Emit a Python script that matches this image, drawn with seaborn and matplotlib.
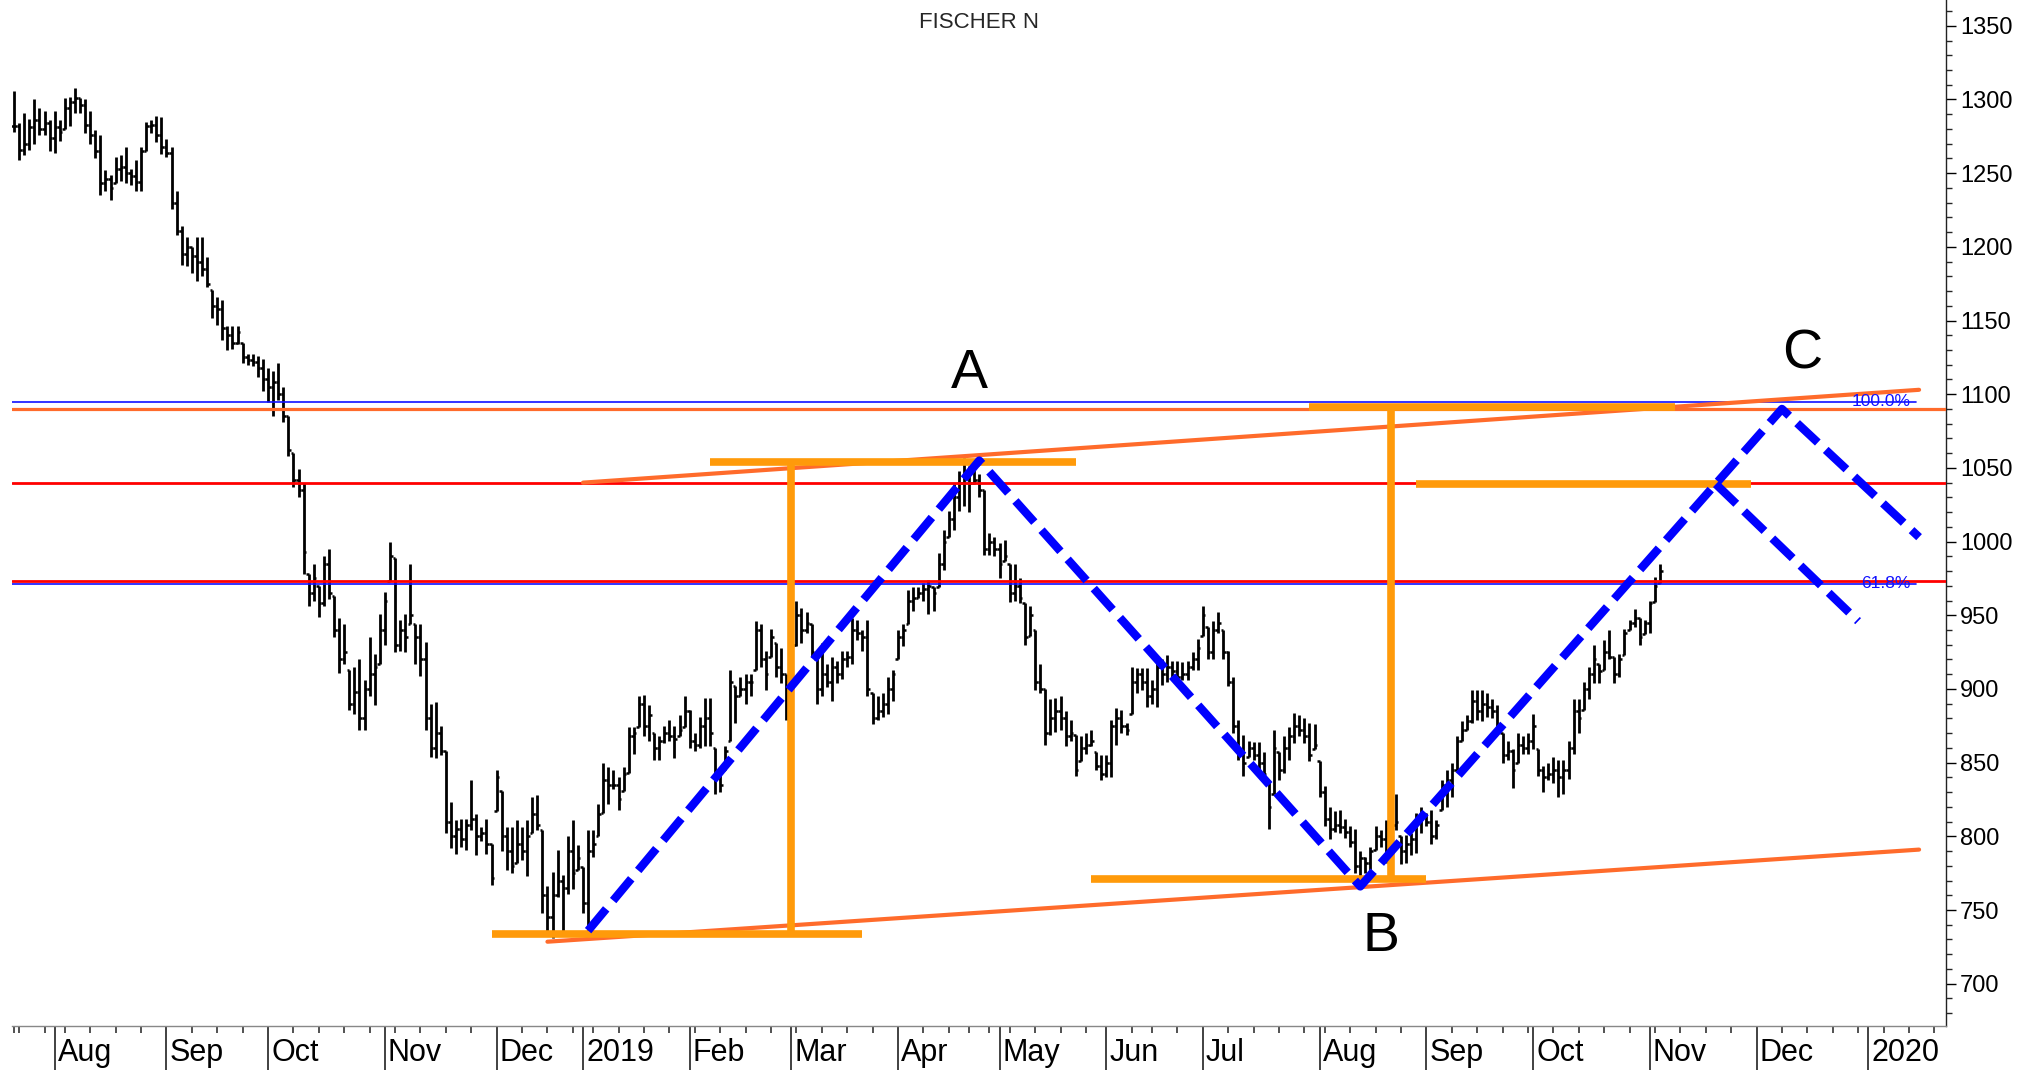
import numpy as np
import pandas as pd
import matplotlib
matplotlib.use("Agg")
import matplotlib.pyplot as plt
import matplotlib.transforms as mtransforms
from matplotlib.ticker import MultipleLocator, FixedLocator
import seaborn as sns

# Daily bars FISCHER N, 20 Jul 2018 - 5 Nov 2019 (rows of 10 bars)
highs = [
    1306, 1284, 1291, 1287, 1300, 1294, 1292, 1286, 1292, 1286,
    1301, 1302, 1308, 1301, 1300, 1292, 1279, 1276, 1252, 1249,
    1261, 1262, 1268, 1253, 1259, 1268, 1285, 1286, 1289, 1288,
    1273, 1268, 1238, 1214, 1207, 1200, 1207, 1207, 1193, 1171,
    1166, 1164, 1146, 1146, 1146, 1135, 1127, 1127, 1126, 1124,
    1118, 1116, 1121, 1105, 1085, 1060, 1049, 1040, 978, 985,
    970, 990, 995, 963, 948, 944, 913, 915, 920, 906,
    935, 924, 951, 966, 1000, 989, 947, 951, 985, 944,
    944, 932, 890, 891, 875, 858, 823, 811, 812, 812,
    838, 815, 806, 812, 795, 845, 831, 806, 806, 811,
    806, 811, 827, 828, 804, 766, 776, 791, 774, 800,
    811, 794, 779, 804, 804, 822, 850, 847, 845, 840,
    847, 874, 874, 895, 896, 889, 870, 868, 875, 879,
    875, 882, 895, 886, 870, 881, 894, 894, 860, 845,
    861, 913, 902, 908, 910, 910, 946, 944, 926, 941,
    931, 928, 910, 935, 960, 955, 952, 944, 920, 931,
    917, 922, 919, 926, 926, 948, 947, 940, 947, 897,
    895, 897, 908, 913, 940, 944, 967, 969, 969, 972,
    974, 969, 992, 1008, 1021, 1039, 1048, 1057, 1051, 1049,
    1046, 1035, 1006, 1003, 999, 1001, 985, 985, 975, 958,
    956, 940, 917, 900, 893, 894, 895, 885, 879, 869,
    868, 870, 872, 857, 855, 855, 879, 887, 886, 877,
    915, 914, 914, 914, 906, 921, 920, 923, 919, 919,
    918, 919, 925, 934, 956, 942, 946, 952, 940, 926,
    908, 879, 869, 865, 864, 864, 857, 838, 872, 857,
    868, 874, 884, 882, 880, 877, 876, 851, 834, 820,
    817, 818, 812, 807, 805, 790, 786, 793, 807, 804,
    811, 812, 829, 800, 801, 802, 816, 820, 816, 818,
    811, 838, 845, 850, 868, 878, 882, 899, 899, 899,
    897, 893, 889, 870, 865, 859, 870, 868, 870, 883,
    859, 848, 850, 854, 852, 852, 865, 893, 893, 905,
    915, 930, 917, 933, 940, 922, 924, 941, 947, 954,
    948, 947, 960, 976, 985,
]
lows = [
    1278, 1259, 1262, 1266, 1270, 1276, 1276, 1265, 1264, 1272,
    1280, 1282, 1291, 1291, 1277, 1270, 1260, 1235, 1238, 1232,
    1243, 1245, 1243, 1242, 1238, 1238, 1265, 1277, 1271, 1263,
    1261, 1226, 1208, 1188, 1187, 1182, 1177, 1180, 1173, 1152,
    1147, 1137, 1130, 1131, 1134, 1121, 1120, 1119, 1112, 1102,
    1095, 1085, 1096, 1081, 1058, 1037, 1030, 978, 956, 960,
    949, 956, 961, 935, 911, 917, 886, 883, 872, 872,
    895, 889, 917, 930, 973, 925, 926, 925, 944, 917,
    909, 872, 854, 853, 855, 802, 792, 788, 793, 791,
    804, 787, 797, 788, 767, 817, 790, 777, 775, 782,
    784, 773, 802, 804, 748, 736, 731, 759, 736, 761,
    764, 777, 748, 736, 786, 800, 816, 822, 832, 818,
    831, 843, 856, 874, 868, 865, 852, 852, 863, 865,
    853, 868, 874, 860, 858, 860, 861, 861, 829, 830,
    845, 865, 877, 895, 890, 895, 913, 915, 899, 922,
    908, 904, 879, 880, 929, 931, 938, 922, 890, 895,
    901, 892, 904, 907, 915, 917, 933, 926, 895, 876,
    879, 881, 883, 892, 920, 929, 944, 953, 962, 960,
    951, 953, 969, 981, 1003, 1008, 1021, 1024, 1020, 1039,
    1030, 991, 991, 990, 975, 987, 959, 960, 958, 930,
    936, 899, 897, 862, 869, 871, 872, 861, 865, 841,
    851, 856, 861, 845, 838, 840, 840, 862, 870, 869,
    883, 897, 899, 888, 890, 888, 903, 905, 908, 902,
    906, 906, 913, 913, 936, 920, 920, 938, 920, 902,
    870, 852, 841, 854, 852, 846, 838, 805, 829, 838,
    843, 852, 863, 868, 863, 851, 859, 827, 807, 798,
    803, 802, 799, 793, 775, 770, 775, 777, 791, 793,
    782, 788, 804, 781, 782, 787, 789, 802, 807, 795,
    798, 818, 820, 827, 845, 865, 872, 877, 879, 878,
    881, 880, 872, 850, 852, 833, 850, 856, 856, 859,
    841, 830, 838, 836, 827, 829, 839, 856, 870, 886,
    893, 904, 904, 913, 920, 904, 908, 923, 940, 942,
    930, 937, 938, 959, 972,
]
closes = [
    1282, 1266, 1270, 1281, 1286, 1280, 1284, 1274, 1281, 1278,
    1294, 1298, 1301, 1296, 1283, 1276, 1265, 1243, 1246, 1240,
    1253, 1254, 1250, 1248, 1244, 1265, 1282, 1283, 1276, 1268,
    1264, 1230, 1211, 1195, 1200, 1194, 1190, 1185, 1175, 1160,
    1158, 1145, 1140, 1135, 1142, 1125, 1123, 1122, 1118, 1110,
    1105, 1108, 1100, 1085, 1062, 1042, 1035, 993, 965, 975,
    958, 985, 965, 940, 920, 925, 890, 898, 880, 900,
    910, 915, 940, 960, 990, 930, 940, 935, 950, 935,
    920, 880, 860, 870, 858, 810, 800, 805, 798, 808,
    812, 800, 802, 795, 772, 840, 800, 790, 780, 795,
    790, 800, 815, 808, 760, 745, 760, 770, 765, 790,
    775, 785, 755, 790, 795, 815, 838, 835, 835, 825,
    842, 868, 870, 890, 875, 882, 860, 865, 870, 868,
    866, 872, 885, 865, 862, 875, 880, 870, 840, 835,
    858, 905, 895, 900, 905, 905, 940, 920, 910, 935,
    915, 910, 905, 930, 950, 940, 945, 925, 900, 910,
    905, 915, 910, 920, 922, 940, 938, 935, 900, 880,
    885, 890, 900, 910, 935, 940, 960, 962, 965, 968,
    970, 965, 985, 1000, 1015, 1030, 1040, 1045, 1040, 1042,
    1035, 995, 1000, 995, 985, 990, 965, 970, 962, 935,
    950, 905, 900, 870, 880, 885, 880, 868, 870, 845,
    860, 862, 865, 848, 842, 850, 875, 880, 875, 872,
    905, 910, 905, 895, 900, 915, 910, 915, 912, 908,
    910, 915, 920, 928, 950, 925, 940, 945, 925, 905,
    875, 858, 850, 860, 855, 850, 842, 820, 860, 845,
    860, 868, 875, 872, 868, 855, 862, 830, 812, 805,
    808, 806, 803, 796, 780, 785, 782, 790, 800, 798,
    805, 808, 810, 790, 795, 798, 812, 815, 810, 800,
    808, 835, 838, 845, 865, 872, 878, 892, 885, 890,
    888, 885, 875, 855, 858, 845, 862, 860, 865, 875,
    845, 840, 842, 845, 840, 845, 860, 885, 880, 900,
    910, 920, 912, 925, 922, 910, 920, 938, 945, 948,
    935, 945, 958, 970, 980,
]

# SIX exchange holidays inside the charted period
holidays = ["2018-08-01", "2018-12-24", "2018-12-25", "2018-12-26", "2018-12-31",
            "2019-01-01", "2019-01-02", "2019-04-19", "2019-04-22", "2019-05-01",
            "2019-05-30", "2019-06-10", "2019-08-01"]

# horizontal levels
fib_levels = [1095, 971.5]
fib_labels = ["100.0%", "61.8%"]
red_levels = [1040, 973.5]
top_level = 1090

# thick orange measuring segments
hseg_start = ["2018-11-30", "2019-02-07", "2019-05-28", "2019-07-30", "2019-08-29"]
hseg_end = ["2019-03-21", "2019-05-23", "2019-09-02", "2019-11-08", "2019-11-29"]
hseg_price = [733.7, 1053.7, 771.3, 1091.3, 1038.8]
vseg_date = ["2019-03-01", "2019-08-22"]
vseg_low = [733.7, 771.3]
vseg_high = [1053.7, 1091.3]

# trend channel
upper_dates = ["2019-01-03", "2020-01-15"]
upper_prices = [1040, 1103]
lower_dates = ["2018-12-17", "2020-01-15"]
lower_prices = [728.5, 791]

# ABC projection
abc_dates = ["2019-01-04", "2019-04-25", "2019-08-14", "2019-12-09", "2020-01-15"]
abc_prices = [736, 1055, 766, 1090, 1003]
alt_dates = ["2019-11-20", "2019-12-30"]
alt_prices = [1039, 946]

letters = ["A", "B", "C"]
letter_dates = ["2019-04-23", "2019-08-20", "2019-12-13"]
letter_prices = [1114, 732, 1127]

sns.set_theme(style="white")
plt.rcParams['font.family'] = ['Liberation Sans', 'DejaVu Sans']

# trading calendar (future part = plain weekdays)
cal = pd.bdate_range("2018-07-20", "2020-01-31")
cal = cal[~cal.isin(pd.to_datetime(holidays))]
pos = pd.Series(np.arange(len(cal)), index=cal)


def xpos(dates):
    return pos[pd.to_datetime(dates)].to_numpy().astype(float)


W, H = 2019, 1070
fig = plt.figure(figsize=(W / 100, H / 100), dpi=100)
ax = fig.add_axes([12 / W, 44 / H, 1934 / W, 1026 / H])

hi = np.array(highs, float)
lo = np.array(lows, float)
cl = np.clip(np.array(closes, float), lo, hi)
op = np.clip(np.r_[cl[0], cl[:-1]], lo, hi)
x = np.arange(len(hi))

# OHLC bars
ax.vlines(x, lo, hi, color="black", lw=2.0, zorder=2)
ax.hlines(op, x - 0.5, x, color="black", lw=1.8, zorder=2)
ax.hlines(cl, x, x + 0.5, color="black", lw=1.8, zorder=2)

orange_red = "#FF6B2B"
orange = "#FF9A0A"

# levels
for lvl in fib_levels:
    ax.axhline(lvl, xmin=0, xmax=0.9845, color="#1010FF", lw=1.2, zorder=3)
ax.axhline(top_level, color=orange_red, lw=2.3, zorder=3)
for lvl in red_levels:
    ax.axhline(lvl, color="#FF0000", lw=2.0, zorder=4)

blend = mtransforms.blended_transform_factory(ax.transAxes, ax.transData)
for lvl, lab in zip(fib_levels, fib_labels):
    ax.text(0.9815, lvl, lab, transform=blend, ha="right", va="center",
            color="#1010FF", fontsize=12.5, zorder=8)

# trend channel
sns.lineplot(x=xpos(upper_dates), y=upper_prices, ax=ax, color=orange_red,
             lw=3, sort=False, estimator=None, zorder=5)
sns.lineplot(x=xpos(lower_dates), y=lower_prices, ax=ax, color=orange_red,
             lw=3, sort=False, estimator=None, zorder=5)

# measuring segments
ax.hlines(hseg_price, xpos(hseg_start), xpos(hseg_end), color=orange, lw=5.5, zorder=6)
ax.vlines(xpos(vseg_date), vseg_low, vseg_high, color=orange, lw=5.5, zorder=6)

# ABC zigzag
for d, p in [(abc_dates, abc_prices), (alt_dates, alt_prices)]:
    sns.lineplot(x=xpos(d), y=p, ax=ax, color="#0000FF", lw=6, sort=False,
                 estimator=None, linestyle=(0, (3.4, 1.3)), zorder=7)

for lab, d, p in zip(letters, letter_dates, letter_prices):
    ax.text(xpos([d])[0], p, lab, ha="center", va="center", fontsize=40,
            color="black", zorder=8)

# axes
ax.set_xlim(-0.4, 380.3)
ax.set_ylim(671.3, 1367.5)

for s in ["left", "top"]:
    ax.spines[s].set_visible(False)
ax.spines["right"].set_color("#222222")
ax.spines["right"].set_linewidth(1.0)
ax.spines["bottom"].set_color("#888888")
ax.spines["bottom"].set_linewidth(1.0)

ax.yaxis.tick_right()
ax.yaxis.set_major_locator(MultipleLocator(50))
ax.yaxis.set_minor_locator(MultipleLocator(10))
ax.tick_params(axis="y", which="major", length=7, width=1.0, labelsize=17, pad=3,
               colors="black", right=True, left=False)
ax.tick_params(axis="y", which="minor", length=4, width=1.0, right=True, left=False)

cs = cal.to_series()
month_first = cs.groupby(cal.to_period("M")).first()
week_first = cs.groupby(cal.to_period("W")).first()
month_first = month_first[month_first != cal[0]]
mpos = xpos(month_first.values)
wpos = xpos(week_first.values)
ax.xaxis.set_major_locator(FixedLocator(mpos))
ax.xaxis.set_minor_locator(FixedLocator(wpos))
ax.tick_params(axis="x", which="major", length=32, width=1.3, color="#333333",
               labelbottom=False, bottom=True)
ax.tick_params(axis="x", which="minor", length=5, width=1.2, color="#333333", bottom=True)

xblend = mtransforms.blended_transform_factory(ax.transData, ax.transAxes)
for d, p in zip(month_first.values, mpos):
    d = pd.Timestamp(d)
    if p > 378:
        continue
    lab = str(d.year) if d.month == 1 else d.strftime("%b")
    ax.text(p + 0.6, -0.026, lab, transform=xblend, ha="left", va="center",
            fontsize=22, color="black")

fig.text(979 / W, 1 - 23 / H, "FISCHER N", ha="center", va="center", fontsize=16)

fig.savefig("out.png", dpi=100)
plt.close(fig)
